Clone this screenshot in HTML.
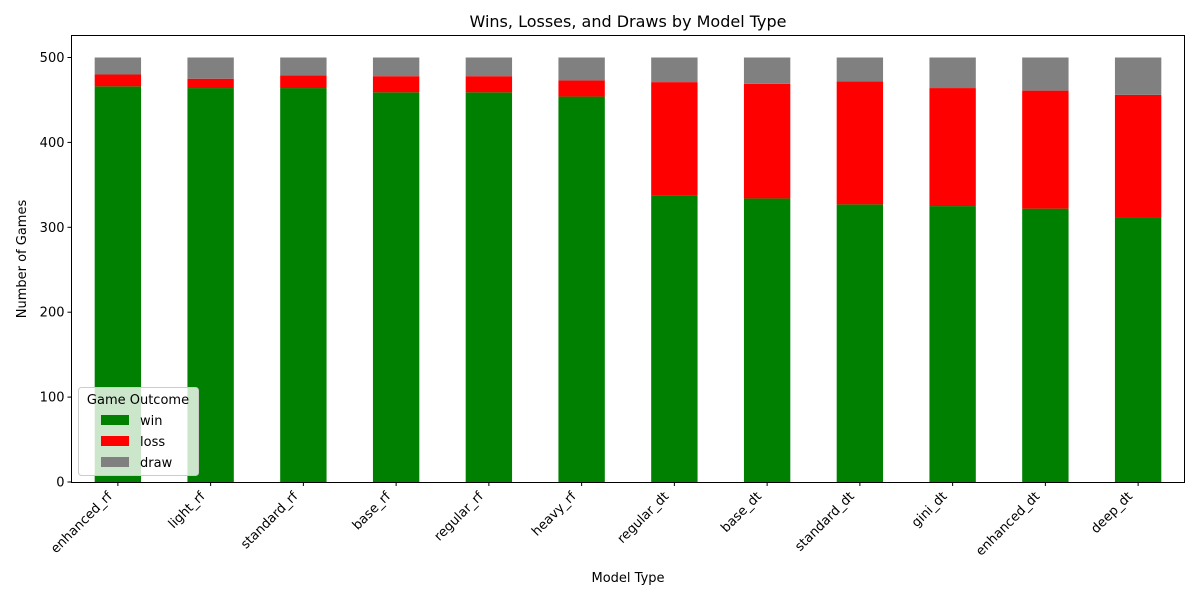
<!DOCTYPE html>
<html><head><meta charset="utf-8"><style>
body{margin:0;background:#fff;font-family:"Liberation Sans","DejaVu Sans",sans-serif;}
text{font-family:"DejaVu Sans","Liberation Sans",sans-serif;}
</style></head><body>
<svg id="chart" width="1200" height="600" xmlns="http://www.w3.org/2000/svg">
<text x="628" y="27" font-size="16" text-anchor="middle">Wins, Losses, and Draws by Model Type</text>
<g id="bars"></g>
<rect x="71.5" y="35.5" width="1113" height="447" fill="none" stroke="#000" stroke-width="1"/>
<g id="axes"></g>
<text x="628" y="582" font-size="13" text-anchor="middle">Model Type</text>
<text transform="translate(26,259) rotate(-90)" font-size="13" text-anchor="middle">Number of Games</text>
<g>
<rect x="78.5" y="387.5" width="120" height="88" rx="3" fill="#fff" fill-opacity="0.8" stroke="#ccc"/>
<text x="138" y="404" font-size="13" text-anchor="middle">Game Outcome</text>
<rect x="101" y="415" width="28" height="10" fill="#008000"/>
<text x="140" y="425" font-size="13">win</text>
<rect x="101" y="436" width="28" height="10" fill="#ff0000"/>
<text x="140" y="446" font-size="13">loss</text>
<rect x="101" y="457" width="28" height="10" fill="#808080"/>
<text x="140" y="467" font-size="13">draw</text>
</g>
</svg>
<script>
const categories=["enhanced_rf","light_rf","standard_rf","base_rf","regular_rf","heavy_rf","regular_dt","base_dt","standard_dt","gini_dt","enhanced_dt","deep_dt"];
const wins=[466,464,464,459,459,454,337,334,327,325,322,311];
const losses=[14,11,15,19,19,19,134,135,145,139,139,145];
const draws=[20,25,21,22,22,27,29,31,28,36,39,44];
const yTicks=[0,100,200,300,400,500];
const NS="http://www.w3.org/2000/svg";
const L=71.5,R=1184.5,T=35.5,B=482;
const step=(R-L)/categories.length;
const x=i=>L+step*(i+0.5);
const y=v=>B-v*(B-57.5)/500;
const bars=document.getElementById('bars'),axes=document.getElementById('axes');
function mk(tag,a,p){const e=document.createElementNS(NS,tag);for(const k in a)e.setAttribute(k,a[k]);p.appendChild(e);return e;}
const series=[["win",wins,"#008000"],["loss",losses,"#ff0000"],["draw",draws,"#808080"]];
categories.forEach((c,i)=>{
  let base=0;
  series.forEach(([n,arr,col])=>{
    const v=arr[i];
    const r=mk('rect',{x:x(i)-step/4,y:y(base+v),width:step/2,height:y(base)-y(base+v),fill:col},bars);
    
    
    base+=v;
  });
  const t=mk('line',{x1:x(i),x2:x(i),y1:B,y2:B+4,stroke:'#000'},axes);
  
  
  const lb=mk('text',{transform:`translate(${x(i)-5},${B+15}) rotate(-45)`,'font-size':13,'text-anchor':'end'},axes);
  lb.textContent=c;
  
  
});
yTicks.forEach(v=>{
  const t=mk('line',{x1:L-4,x2:L,y1:y(v),y2:y(v),stroke:'#000'},axes);
  
  
  const lb=mk('text',{x:L-7,y:y(v)+4.5,'font-size':13,'text-anchor':'end'},axes);
  lb.textContent=v;
  
  
});
</script>
</body></html>
